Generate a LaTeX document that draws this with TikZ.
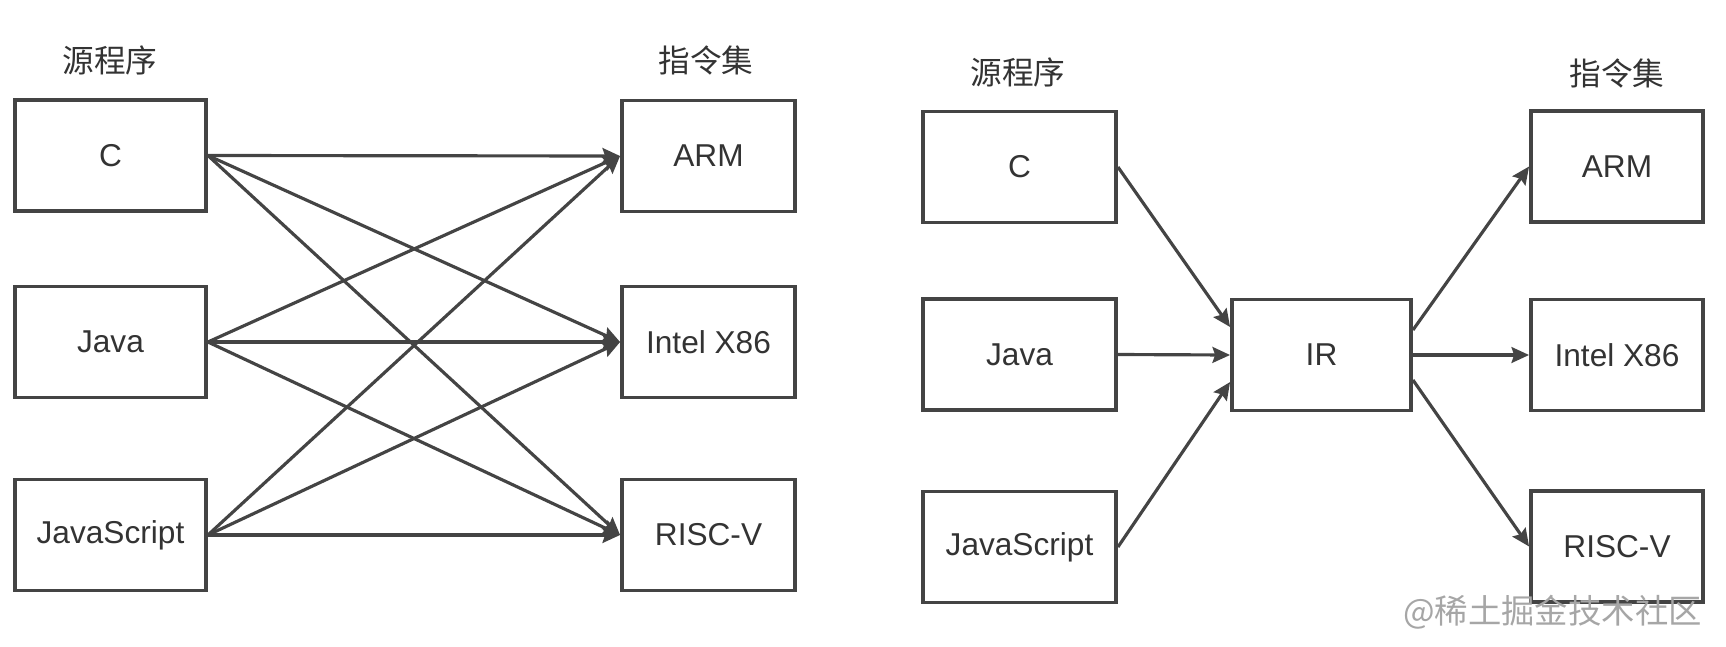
\documentclass[tikz,border=0pt]{standalone}
\usepackage{fontspec}
\setmainfont{Liberation Sans}
\newfontfamily\cjk{Noto Sans CJK SC}
\usetikzlibrary{arrows.meta}

\definecolor{linegray}{HTML}{444444}
\definecolor{textgray}{HTML}{333333}

\tikzstyle{box}=[draw=linegray,line width=2.2pt,fill=white,inner sep=0pt,minimum height=111*0.02cm,text=textgray,font=\fontsize{18}{20}\selectfont]
\tikzstyle{head}=[text=textgray,font=\cjk\fontsize{18}{20}\selectfont]
\tikzstyle{arr}=[draw=linegray,line width=1.8pt,-{Stealth[length=10pt,width=9pt,inset=1.5pt]}]

\begin{document}
\begin{tikzpicture}[x=0.02cm,y=-0.02cm]
	\useasboundingbox (0,0) rectangle (1726,646);
	
	% many to many
	\node[head] (srchead) at (110,60) {源程序};
	\node[head] (isahead) at (706,60) {指令集};
	
	\node[box,minimum width=191*0.02cm] (c) at (110.5,155.5) {C};
	\node[box,minimum width=191*0.02cm] (java) at (110.5,342) {Java};
	\node[box,minimum width=191*0.02cm] (js) at (110.5,535) {JavaScript};
	
	\node[box,minimum width=173*0.02cm] (arm) at (708.5,156) {ARM};
	\node[box,minimum width=173*0.02cm] (x86) at (708.5,342) {Intel X86};
	\node[box,minimum width=173*0.02cm] (riscv) at (708.5,535) {RISC-V};
	
	\foreach \s in {c,java,js}
		\foreach \t in {arm,x86,riscv}
			\draw[arr] (\s.east)--(\t.west);
	
	% through IR
	\node[head] (srchead2) at (1018,72) {源程序};
	\node[head] (isahead2) at (1617,73) {指令集};
	
	\node[box,minimum width=193*0.02cm] (c2) at (1019.5,167) {C};
	\node[box,minimum width=193*0.02cm] (java2) at (1019.5,354.5) {Java};
	\node[box,minimum width=193*0.02cm] (js2) at (1019.5,547) {JavaScript};
	
	\node[box,minimum width=179*0.02cm] (ir) at (1321.5,355) {IR};
	
	\node[box,minimum width=172*0.02cm] (arm2) at (1617,166.5) {ARM};
	\node[box,minimum width=172*0.02cm] (x862) at (1617,355) {Intel X86};
	\node[box,minimum width=172*0.02cm] (riscv2) at (1617,546.5) {RISC-V};
	
	\draw[arr] (c2.east)--([yshift=28*0.02cm]ir.west);
	\draw[arr] (java2.east)--(ir.west);
	\draw[arr] (js2.east)--([yshift=-27*0.02cm]ir.west);
	
	\draw[arr] ([yshift=25*0.02cm]ir.east)--(arm2.west);
	\draw[arr] (ir.east)--(x862.west);
	\draw[arr] ([yshift=-25*0.02cm]ir.east)--(riscv2.west);
	
	\node[text=black!35,font=\cjk\fontsize{19}{20}\selectfont,anchor=east] (mark) at (1708,612) {@稀土掘金技术社区};
\end{tikzpicture}
\end{document}
